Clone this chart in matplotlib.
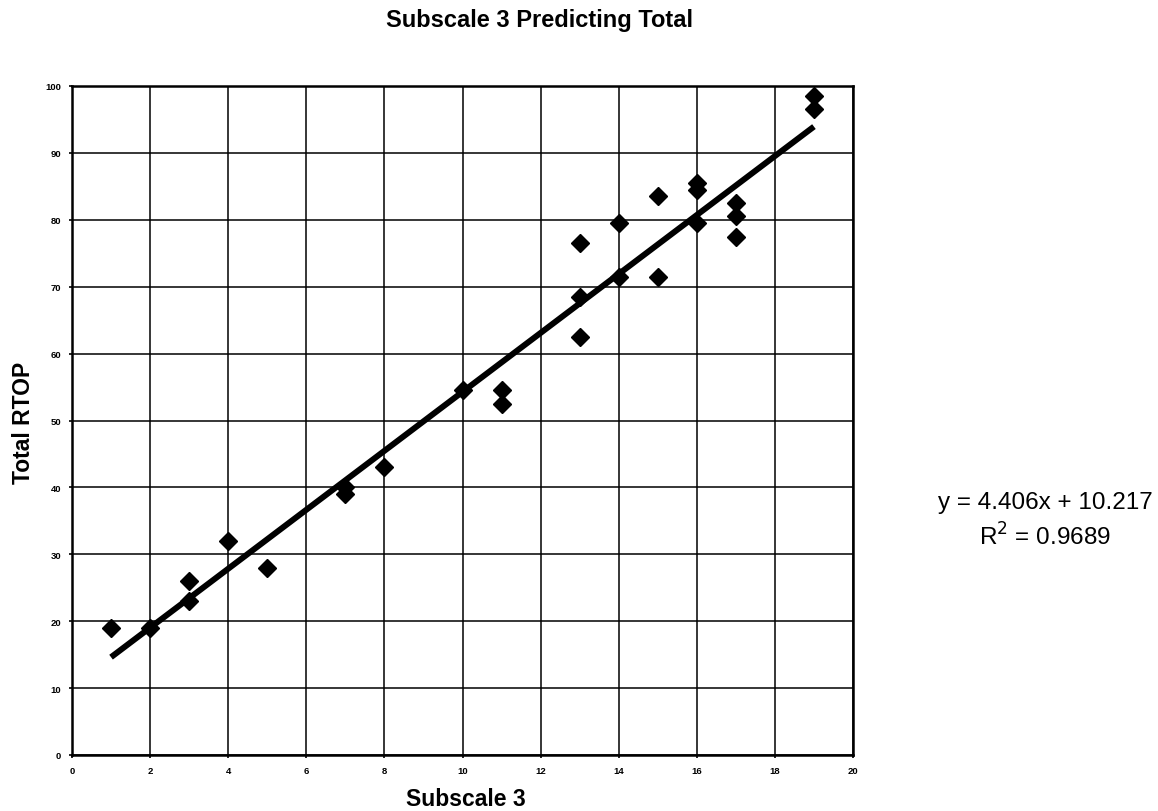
import matplotlib
matplotlib.use("Agg")
import matplotlib.pyplot as plt
import numpy as np

plt.rcParams['font.family'] = ['Liberation Sans', 'DejaVu Sans']

subscale3 = [1, 2, 3, 3, 4, 5, 7, 7, 8, 10, 11, 11, 13, 13, 13, 14, 14, 15, 15,
             16, 16, 16, 17, 17, 17, 19, 19]
total_rtop = [19, 19, 26, 23, 32, 28, 40, 39, 43, 54.5, 54.5, 52.5, 76.5, 68.5, 62.5,
              79.5, 71.5, 83.5, 71.5, 85.5, 84.5, 79.5, 82.5, 80.5, 77.5, 98.5, 96.5]
slope = 4.406
intercept = 10.217
r_squared = 0.9689
x_ticks = list(range(0, 21, 2))
y_ticks = list(range(0, 101, 10))

fig = plt.figure(figsize=(11.58, 8.12), dpi=100)
ax = fig.add_axes([72/1158, 56/812, 781/1158, 669/812])

ax.set_xlim(0, 20)
ax.set_ylim(0, 100)
ax.set_xticks(x_ticks)
ax.set_yticks(y_ticks)
ax.set_xticklabels([str(t) for t in x_ticks], fontsize=6.8, fontweight='bold')
ax.set_yticklabels([str(t) for t in y_ticks], fontsize=6.8, fontweight='bold')
ax.tick_params(direction='out', length=2, width=1.2, pad=6)
ax.grid(True, color='black', linewidth=1.1)
ax.set_axisbelow(True)
for s in ax.spines.values():
    s.set_linewidth(1.8)
    s.set_color('black')

xmin, xmax = min(subscale3), max(subscale3)
xs = np.array([xmin, xmax])
ax.plot(xs, slope * xs + intercept, color='black', linewidth=4.3, solid_capstyle='butt', zorder=3)
ax.plot(subscale3, total_rtop, linestyle='none', marker='D', markersize=8.8,
        color='black', zorder=4)

fig.text(540/1158, 1 - 20/812, 'Subscale 3 Predicting Total', ha='center', va='center',
         fontsize=17, fontweight='bold')
fig.text(466/1158, 1 - 800/812, 'Subscale 3', ha='center', va='center',
         fontsize=16.5, fontweight='bold')
fig.text(24/1158, 1 - 423/812, 'Total RTOP', ha='center', va='center', rotation=90,
         fontsize=16.5, fontweight='bold')
fig.text(1045/1158, 1 - 503/812, f'y = {slope}x + {intercept}', ha='center', va='center',
         fontsize=17.5)
fig.text(1045/1158, 1 - 537/812, f'R$^2$ = {r_squared}', ha='center', va='center',
         fontsize=17.5)

fig.savefig('out.png', dpi=100)
